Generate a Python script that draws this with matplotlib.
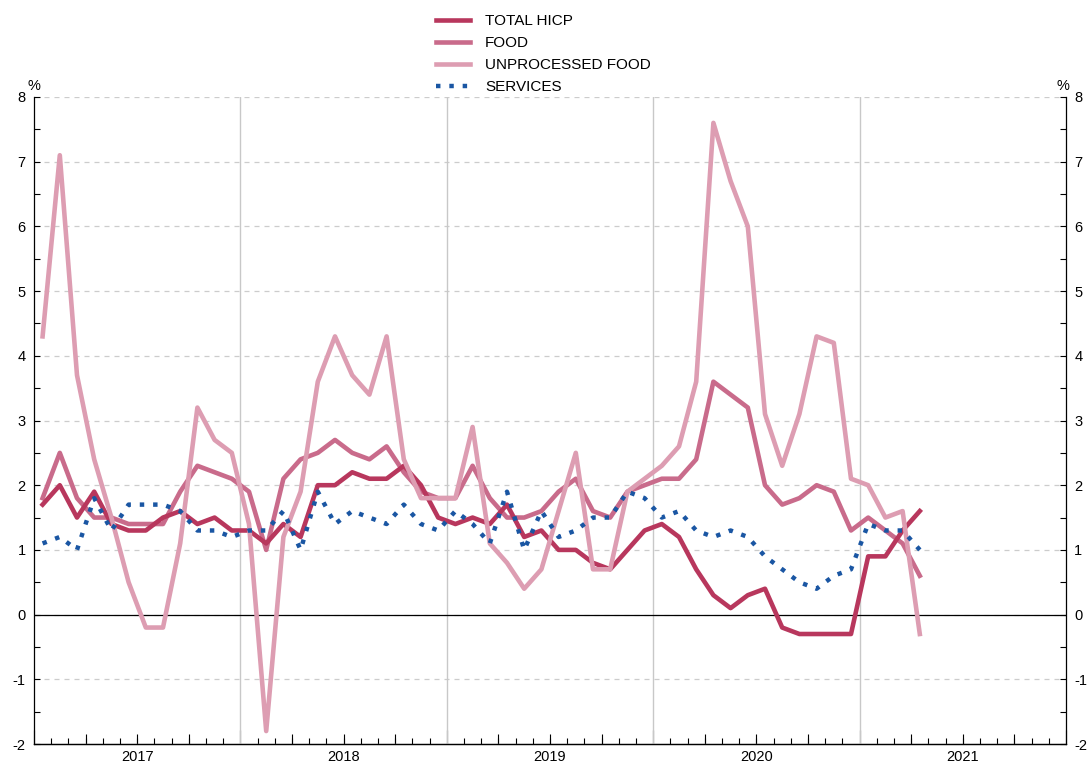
import numpy as np
import matplotlib
matplotlib.use('Agg')
import matplotlib.pyplot as plt
from matplotlib.ticker import FixedLocator, MultipleLocator, NullFormatter

plt.rcParams['font.family'] = ['Liberation Sans', 'DejaVu Sans']
plt.rcParams['axes.unicode_minus'] = False

# monthly data, Jan 2017 - Apr 2021 (annual % changes)
years = ['2017', '2018', '2019', '2020', '2021']

total_hicp = [1.7, 2.0, 1.5, 1.9, 1.4, 1.3, 1.3, 1.5, 1.6, 1.4, 1.5, 1.3,
              1.3, 1.1, 1.4, 1.2, 2.0, 2.0, 2.2, 2.1, 2.1, 2.3, 2.0, 1.5,
              1.4, 1.5, 1.4, 1.7, 1.2, 1.3, 1.0, 1.0, 0.8, 0.7, 1.0, 1.3,
              1.4, 1.2, 0.7, 0.3, 0.1, 0.3, 0.4, -0.2, -0.3, -0.3, -0.3, -0.3,
              0.9, 0.9, 1.3, 1.6]

food = [1.8, 2.5, 1.8, 1.5, 1.5, 1.4, 1.4, 1.4, 1.9, 2.3, 2.2, 2.1,
        1.9, 1.0, 2.1, 2.4, 2.5, 2.7, 2.5, 2.4, 2.6, 2.2, 1.9, 1.8,
        1.8, 2.3, 1.8, 1.5, 1.5, 1.6, 1.9, 2.1, 1.6, 1.5, 1.9, 2.0,
        2.1, 2.1, 2.4, 3.6, 3.4, 3.2, 2.0, 1.7, 1.8, 2.0, 1.9, 1.3,
        1.5, 1.3, 1.1, 0.6]

unprocessed_food = [4.3, 7.1, 3.7, 2.4, 1.5, 0.5, -0.2, -0.2, 1.1, 3.2, 2.7, 2.5,
                    1.4, -1.8, 1.2, 1.9, 3.6, 4.3, 3.7, 3.4, 4.3, 2.4, 1.8, 1.8,
                    1.8, 2.9, 1.1, 0.8, 0.4, 0.7, 1.6, 2.5, 0.7, 0.7, 1.9, 2.1,
                    2.3, 2.6, 3.6, 7.6, 6.7, 6.0, 3.1, 2.3, 3.1, 4.3, 4.2, 2.1,
                    2.0, 1.5, 1.6, -0.3]

services = [1.1, 1.2, 1.0, 1.8, 1.3, 1.7, 1.7, 1.7, 1.6, 1.3, 1.3, 1.2,
            1.3, 1.3, 1.6, 1.0, 1.9, 1.4, 1.6, 1.5, 1.4, 1.7, 1.4, 1.3,
            1.6, 1.4, 1.1, 1.9, 1.0, 1.6, 1.2, 1.3, 1.5, 1.5, 1.9, 1.8,
            1.5, 1.6, 1.3, 1.2, 1.3, 1.2, 0.9, 0.7, 0.5, 0.4, 0.6, 0.7,
            1.4, 1.3, 1.3, 1.0]

c_total = '#b8375d'
c_food = '#c96b8b'
c_unproc = '#dd9db2'
c_serv = '#1a56a3'

x = np.arange(len(total_hicp)) + 0.5  # mid-month positions

fig = plt.figure(figsize=(10.89, 7.63), dpi=100)
ax = fig.add_axes([34 / 1089, 19 / 763, 1032 / 1089, 647 / 763])

ax.grid(axis='y', which='major', color='#cccccc', lw=0.9,
        linestyle=(0, (4, 4)))
ax.set_axisbelow(True)

# year separators and zero line
for k in range(1, len(years)):
    ax.axvline(12 * k, color='#c8c8c8', lw=1.0, zorder=1)
ax.axhline(0, color='black', lw=0.9, zorder=2)

ax.plot(x, food, color=c_food, lw=3.3, label='FOOD', zorder=3)
ax.plot(x, total_hicp, color=c_total, lw=3.3, label='TOTAL HICP', zorder=3.5)
ax.plot(x, unprocessed_food, color=c_unproc, lw=3.3, label='UNPROCESSED FOOD', zorder=4)
ax.plot(x, services, color=c_serv, lw=3.2, linestyle=(0, (1, 2)),
        label='SERVICES', zorder=5)

ax.set_xlim(0, 12 * len(years))
ax.set_ylim(-2, 8)

# y axis, both sides
ax.yaxis.set_major_locator(MultipleLocator(1))
ax.yaxis.set_minor_locator(MultipleLocator(0.5))
ax.tick_params(axis='y', which='both', direction='in', length=4, width=0.8,
               left=True, right=True, labelleft=True, labelright=True,
               labelsize=10.5, pad=6)

# x axis: year ticks, month ticks, quarter ticks, year labels
ax.xaxis.set_major_locator(FixedLocator(np.arange(0, 12 * len(years) + 1, 12)))
ax.xaxis.set_minor_locator(FixedLocator(np.arange(0, 12 * len(years) + 1, 1)))
ax.xaxis.set_major_formatter(NullFormatter())
ax.tick_params(axis='x', which='major', direction='in', length=10, width=0.8)
ax.tick_params(axis='x', which='minor', direction='in', length=4, width=0.8)

quarters = [q for q in range(0, 12 * len(years), 3) if q % 12 != 0]
sec_q = ax.secondary_xaxis('bottom')
sec_q.set_xticks(quarters)
sec_q.xaxis.set_major_formatter(NullFormatter())
sec_q.tick_params(direction='in', length=7, width=0.8)

sec_y = ax.secondary_xaxis('bottom')
sec_y.set_xticks(np.arange(len(years)) * 12 + 6, years)
sec_y.tick_params(length=0, labelsize=10.5, pad=4)

for s in ['left', 'right', 'bottom']:
    ax.spines[s].set_linewidth(0.9)
ax.spines['top'].set_visible(False)

# % unit labels
ax.annotate('%', xy=(0, 1), xycoords='axes fraction', xytext=(0, 3),
            textcoords='offset points', ha='center', va='bottom', fontsize=10.5)
ax.annotate('%', xy=(1, 1), xycoords='axes fraction', xytext=(-2, 3),
            textcoords='offset points', ha='center', va='bottom', fontsize=10.5)

handles, labels = ax.get_legend_handles_labels()
order = [1, 0, 2, 3]
fig.legend([handles[i] for i in order], [labels[i] for i in order],
           loc='upper left', bbox_to_anchor=(430 / 1089, 1 - 8 / 763),
           frameon=False, fontsize=11, handlelength=2.2, handletextpad=1.0,
           labelspacing=0.53, borderaxespad=0)

fig.savefig('out.png', dpi=100)
